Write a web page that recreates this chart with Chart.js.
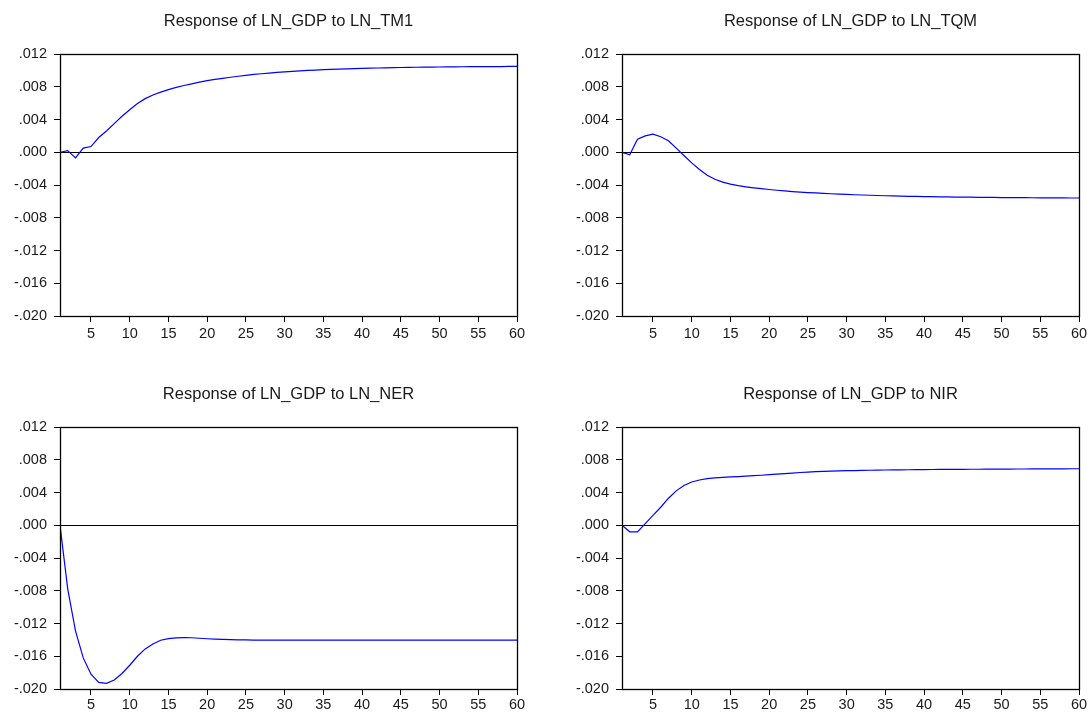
<!DOCTYPE html>
<html>
<head>
<meta charset="utf-8">
<title>Impulse responses of LN_GDP</title>
<script src="https://cdn.jsdelivr.net/npm/chart.js@4.4.1/dist/chart.umd.min.js"></script>
<style>
  html, body { margin: 0; padding: 0; background: #fff; }
  #wrap { position: relative; width: 1091px; height: 712px; overflow: hidden; }
  #wrap canvas { position: absolute; left: 0; top: 0; }
</style>
</head>
<body>
<div id="wrap">
  <canvas id="c-tm1" width="1091" height="712"></canvas>
  <canvas id="c-tqm" width="1091" height="712"></canvas>
  <canvas id="c-ner" width="1091" height="712"></canvas>
  <canvas id="c-nir" width="1091" height="712"></canvas>
</div>
<script>
// ── Data ────────────────────────────────────────────────────────────────────
const TITLES = [
  'Response of LN_GDP to LN_TM1',
  'Response of LN_GDP to LN_TQM',
  'Response of LN_GDP to LN_NER',
  'Response of LN_GDP to NIR',
];

const X_TICKS = [5, 10, 15, 20, 25, 30, 35, 40, 45, 50, 55, 60];
const Y_TICKS = [-0.020, -0.016, -0.012, -0.008, -0.004, 0.000, 0.004, 0.008, 0.012];

const RESP_TM1 = [
  0.00000, 0.00020, -0.00070, 0.00050, 0.00070, 0.00180, 0.00260, 0.00350, 0.00440, 0.00520,
  0.00595, 0.00655, 0.00700, 0.00735, 0.00765, 0.00792, 0.00815, 0.00836, 0.00856, 0.00874,
  0.00889, 0.00903, 0.00916, 0.00928, 0.00940, 0.00950, 0.00959, 0.00967, 0.00975, 0.00982,
  0.00988, 0.00994, 0.00999, 0.01004, 0.01008, 0.01012, 0.01016, 0.01019, 0.01022, 0.01025,
  0.01027, 0.01029, 0.01031, 0.01033, 0.01035, 0.01036, 0.01038, 0.01039, 0.01040, 0.01041,
  0.01042, 0.01043, 0.01044, 0.01045, 0.01045, 0.01046, 0.01047, 0.01047, 0.01048, 0.01048,
];

const RESP_TQM = [
  0.00000, -0.00030, 0.00160, 0.00200, 0.00220, 0.00190, 0.00140, 0.00050, -0.00040, -0.00130,
  -0.00210, -0.00280, -0.00330, -0.00365, -0.00390, -0.00408, -0.00422, -0.00434, -0.00445, -0.00455,
  -0.00464, -0.00472, -0.00480, -0.00486, -0.00492, -0.00497, -0.00502, -0.00507, -0.00511, -0.00515,
  -0.00519, -0.00522, -0.00525, -0.00528, -0.00531, -0.00534, -0.00536, -0.00538, -0.00540, -0.00542,
  -0.00543, -0.00545, -0.00546, -0.00547, -0.00548, -0.00549, -0.00550, -0.00551, -0.00552, -0.00553,
  -0.00554, -0.00555, -0.00555, -0.00556, -0.00557, -0.00557, -0.00558, -0.00558, -0.00559, -0.00559,
];

const RESP_NER = [
  0.00000, -0.00780, -0.01290, -0.01620, -0.01820, -0.01920, -0.01930, -0.01890, -0.01810, -0.01710,
  -0.01600, -0.01510, -0.01450, -0.01405, -0.01385, -0.01375, -0.01372, -0.01374, -0.01380, -0.01386,
  -0.01391, -0.01395, -0.01398, -0.01400, -0.01401, -0.01402, -0.01402, -0.01402, -0.01402, -0.01402,
  -0.01402, -0.01402, -0.01402, -0.01402, -0.01402, -0.01402, -0.01402, -0.01402, -0.01402, -0.01402,
  -0.01402, -0.01402, -0.01402, -0.01402, -0.01402, -0.01402, -0.01402, -0.01402, -0.01402, -0.01402,
  -0.01402, -0.01402, -0.01402, -0.01402, -0.01402, -0.01402, -0.01402, -0.01402, -0.01402, -0.01402,
];

const RESP_NIR = [
  0.00000, -0.00080, -0.00080, 0.00020, 0.00120, 0.00220, 0.00330, 0.00420, 0.00485, 0.00528,
  0.00553, 0.00570, 0.00578, 0.00584, 0.00590, 0.00595, 0.00600, 0.00605, 0.00611, 0.00618,
  0.00624, 0.00630, 0.00637, 0.00644, 0.00650, 0.00654, 0.00658, 0.00661, 0.00664, 0.00666,
  0.00668, 0.00670, 0.00672, 0.00673, 0.00675, 0.00676, 0.00677, 0.00678, 0.00679, 0.00680,
  0.00681, 0.00682, 0.00682, 0.00683, 0.00683, 0.00684, 0.00684, 0.00685, 0.00685, 0.00686,
  0.00686, 0.00687, 0.00687, 0.00688, 0.00688, 0.00689, 0.00689, 0.00689, 0.00690, 0.00690,
];

(function () {
  'use strict';

  const W = 1091, H = 712;
  const FONT = "'Liberation Sans', Arial, sans-serif";
  const INK  = '#1a1a1a';
  const Y_AXIS_W = 60;   // forced y-axis box width
  const X_AXIS_H = 30;   // forced x-axis box height

  // plot areas in page pixels: [left, top, right, bottom]
  const PANELS = [
    { id: 'c-tm1', title: TITLES[0], data: RESP_TM1, area: [60, 54, 517, 316] },
    { id: 'c-tqm', title: TITLES[1], data: RESP_TQM, area: [622, 54, 1079, 316] },
    { id: 'c-ner', title: TITLES[2], data: RESP_NER, area: [60, 427, 517, 689] },
    { id: 'c-nir', title: TITLES[3], data: RESP_NIR, area: [622, 427, 1079, 689] },
  ];

  // ── Frame, zero line and title ─────────────────────────────────────────────
  const framePlugin = {
    id: 'eviews-frame',
    beforeDatasetsDraw(chart) {
      const { ctx, chartArea: a, scales } = chart;
      const y0 = Math.round(scales.y.getPixelForValue(0)) + 0.5;
      ctx.save();
      ctx.strokeStyle = '#000';
      ctx.lineWidth = 1;
      ctx.beginPath();
      ctx.moveTo(a.left, y0);
      ctx.lineTo(a.right, y0);
      ctx.stroke();
      ctx.restore();
    },
    afterDraw(chart) {
      const { ctx, chartArea: a } = chart;
      ctx.save();
      ctx.strokeStyle = '#000';
      ctx.lineWidth = 1.3;
      ctx.strokeRect(Math.round(a.left) + 0.5, Math.round(a.top) + 0.5,
        Math.round(a.right - a.left), Math.round(a.bottom - a.top));
      ctx.fillStyle = INK;
      ctx.font = '16.5px ' + FONT;
      ctx.textAlign = 'center';
      ctx.textBaseline = 'middle';
      ctx.fillText(chart.options.plugins.eviewsTitle, (a.left + a.right) / 2, a.top - 33);
      ctx.restore();
    }
  };

  function fmtTick(v) {
    return v.toFixed(3).replace('0.', '.');
  }

  function makeChart(p) {
    const [L, T, R, B] = p.area;
    const points = p.data.map((v, i) => ({ x: i + 1, y: v }));

    return new Chart(document.getElementById(p.id), {
      type: 'line',
      data: {
        datasets: [{
          data: points,
          borderColor: '#0000ff',
          borderWidth: 1.2,
          pointRadius: 0,
          tension: 0,
          fill: false,
        }]
      },
      options: {
        responsive: false,
        animation: false,
        devicePixelRatio: 1,
        events: [],
        layout: {
          padding: { left: L - Y_AXIS_W, top: T, right: W - R, bottom: H - B - X_AXIS_H }
        },
        plugins: {
          legend: { display: false },
          tooltip: { enabled: false },
          eviewsTitle: p.title,
        },
        scales: {
          x: {
            type: 'linear',
            min: 1,
            max: 60,
            afterBuildTicks: (axis) => { axis.ticks = X_TICKS.map(v => ({ value: v })); },
            afterFit: (axis) => { axis.height = X_AXIS_H; },
            grid: { drawOnChartArea: false, drawTicks: true, tickLength: 6, color: '#000' },
            border: { display: true, color: '#000', width: 1 },
            ticks: {
              color: INK, font: { family: FONT, size: 14.5 },
              padding: T > 100 ? 1 : 3, maxRotation: 0, autoSkip: false,
              callback: (v) => String(v),
            },
          },
          y: {
            min: Y_TICKS[0],
            max: Y_TICKS[Y_TICKS.length - 1],
            afterBuildTicks: (axis) => { axis.ticks = Y_TICKS.map(v => ({ value: v })); },
            afterFit: (axis) => { axis.width = Y_AXIS_W; },
            grid: { drawOnChartArea: false, drawTicks: true, tickLength: 6, color: '#000' },
            border: { display: true, color: '#000', width: 1 },
            ticks: {
              color: INK, font: { family: FONT, size: 14.5 },
              padding: 7, autoSkip: false,
              callback: (v) => fmtTick(v),
            },
          }
        }
      },
      plugins: [framePlugin]
    });
  }

  PANELS.forEach(makeChart);
})();
</script>
</body>
</html>
